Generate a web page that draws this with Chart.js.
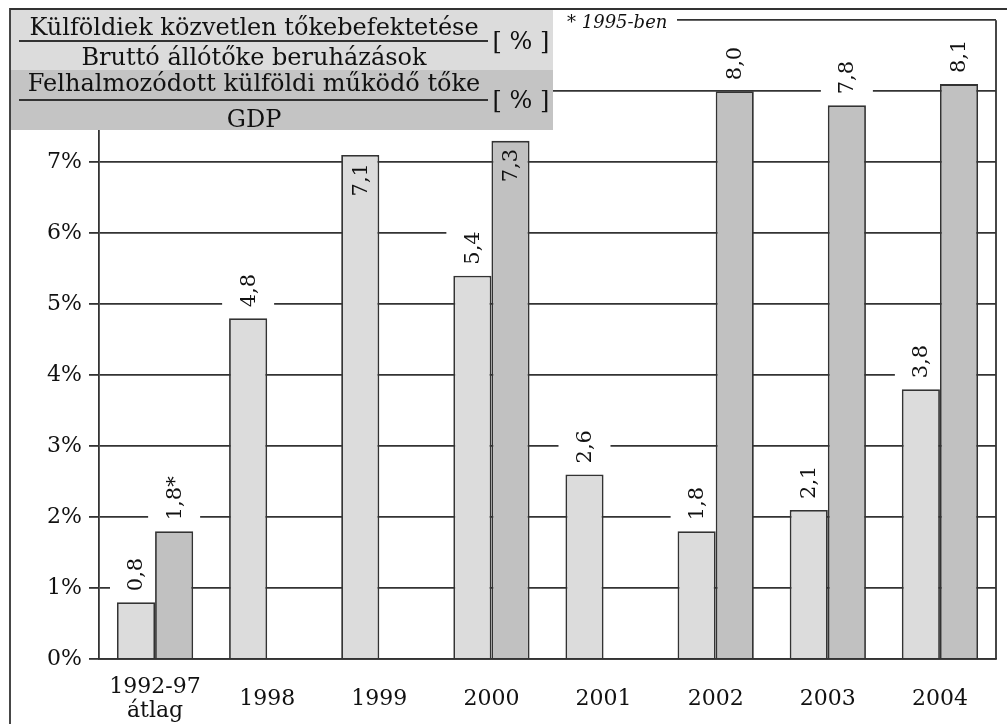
<!DOCTYPE html>
<html>
<head>
<meta charset="utf-8">
<script src="https://cdn.jsdelivr.net/npm/chart.js@4.4.0/dist/chart.umd.min.js"></script>
<style>
    html, body { margin: 0; padding: 0; background: #fff; }
    #wrap { width: 1007px; height: 724px; position: relative; }
</style>
</head>
<body>
<div id="wrap"><canvas id="fdiChart"></canvas></div>
<script>
// Data
const categories = [['1992-97', 'átlag'], '1998', '1999', '2000', '2001', '2002', '2003', '2004'];
const investmentShare = [0.8, 4.8, 7.1, 5.4, 2.6, 1.8, 2.1, 3.8];
const stockToGdp = [1.8, null, null, 7.3, null, 8.0, 7.8, 8.1];
const stockNotes = ['*', '', '', '', '', '', '', ''];
const yTickValues = [0, 1, 2, 3, 4, 5, 6, 7, 8];
const legendRows = [
    { top: 'Külföldiek közvetlen tőkebefektetése', bottom: 'Bruttó állótőke beruházások', unit: '[ % ]' },
    { top: 'Felhalmozódott külföldi működő tőke', bottom: 'GDP', unit: '[ % ]' }
];
const footnote = '* 1995-ben';

const FONT = "'DejaVu Serif', 'Liberation Serif', serif";
const INK = '#111';
const LINE = '#333';
const LW = 1.8;
const LIGHT = '#dcdcdc';
const DARK = '#c1c1c1';
const LEGEND_BOX = { left: 10, top: 9, right: 553, mid: 70, bottom: 130 };
const LABEL_FONT = '21px ' + FONT;

// where each value label goes; labels that would hit the legend go inside the bar
function labelItems(chart) {
    const ctx = chart.ctx;
    const items = [];
    ctx.save();
    ctx.font = LABEL_FONT;
    chart.data.datasets.forEach((ds, di) => {
        chart.getDatasetMeta(di).data.forEach((bar, i) => {
            const v = ds.data[i];
            if (v === null || v === undefined) return;
            const text = v.toFixed(1).replace('.', ',') + (ds.notes ? ds.notes[i] : '');
            const w = ctx.measureText(text).width;
            const inside = bar.x - 26 < LEGEND_BOX.right && bar.y - 16 - w < LEGEND_BOX.bottom;
            items.push({ x: bar.x, y: bar.y, w, text, inside });
        });
    });
    ctx.restore();
    return items;
}

const valueLabels = {
    id: 'valueLabels',
    beforeDatasetsDraw(chart) {
        // white gaps in the grid behind the labels, under the bars
        const ctx = chart.ctx;
        ctx.save();
        ctx.fillStyle = '#fff';
        labelItems(chart).forEach(it => {
            if (!it.inside) ctx.fillRect(it.x - 26, it.y - 16 - it.w, 52, it.w + 13);
        });
        ctx.restore();
    },
    afterDatasetsDraw(chart) {
        const ctx = chart.ctx;
        ctx.save();
        ctx.font = LABEL_FONT;
        ctx.fillStyle = INK;
        labelItems(chart).forEach(it => {
            ctx.save();
            ctx.translate(it.x + 1, it.inside ? it.y + 8 : it.y - 11);
            ctx.rotate(-Math.PI / 2);
            ctx.textAlign = it.inside ? 'right' : 'left';
            ctx.textBaseline = 'middle';
            ctx.fillText(it.text, 0, 0);
            ctx.restore();
        });
        ctx.restore();
    }
};

const frameAndLegend = {
    id: 'frameAndLegend',
    afterDraw(chart) {
        const ctx = chart.ctx;
        const area = chart.chartArea;
        const b = LEGEND_BOX;
        ctx.save();

        // right edge of the plot
        ctx.strokeStyle = LINE;
        ctx.lineWidth = LW;
        ctx.beginPath();
        ctx.moveTo(area.right, area.top);
        ctx.lineTo(area.right, area.bottom);
        ctx.stroke();

        // legend boxes
        ctx.fillStyle = LIGHT;
        ctx.fillRect(b.left, b.top, b.right - b.left, b.mid - b.top);
        ctx.fillStyle = '#c4c4c4';
        ctx.fillRect(b.left, b.mid, b.right - b.left, b.bottom - b.mid);

        ctx.fillStyle = INK;
        ctx.textAlign = 'center';
        ctx.font = '24px ' + FONT;
        const rows = [
            { numY: 35, lineY: 41, denY: 65, unitY: 43 },
            { numY: 91, lineY: 100, denY: 127, unitY: 102 }
        ];
        legendRows.forEach((r, i) => {
            const p = rows[i];
            ctx.textBaseline = 'alphabetic';
            ctx.fillText(r.top, 254, p.numY);
            ctx.fillText(r.bottom, 254, p.denY);
            ctx.beginPath();
            ctx.moveTo(19, p.lineY);
            ctx.lineTo(488, p.lineY);
            ctx.stroke();
            ctx.textBaseline = 'middle';
            ctx.fillText(r.unit, 521, p.unitY);
        });

        // footnote on the top edge
        ctx.fillStyle = '#fff';
        ctx.fillRect(b.right, b.top + 1, 677 - b.right, 22);
        ctx.fillStyle = INK;
        ctx.font = 'italic 18px ' + FONT;
        ctx.textAlign = 'left';
        ctx.textBaseline = 'alphabetic';
        ctx.fillText(footnote, 567, 28);

        // outer frame
        ctx.beginPath();
        ctx.moveTo(10, 724);
        ctx.lineTo(10, 9);
        ctx.lineTo(1007, 9);
        ctx.stroke();
        ctx.restore();
    }
};

new Chart(document.getElementById('fdiChart'), {
    type: 'bar',
    data: {
        labels: categories,
        datasets: [
            {
                label: legendRows[0].top,
                data: investmentShare,
                backgroundColor: LIGHT,
                borderColor: LINE,
                borderWidth: LW
            },
            {
                label: legendRows[1].top,
                data: stockToGdp,
                notes: stockNotes,
                backgroundColor: DARK,
                borderColor: LINE,
                borderWidth: LW
            }
        ]
    },
    options: {
        responsive: true,
        maintainAspectRatio: false,
        animation: false,
        layout: {
            padding: { top: 17, right: 11, left: 0, bottom: 0 }
        },
        plugins: {
            legend: { display: false },
            tooltip: { enabled: false }
        },
        datasets: {
            bar: {
                categoryPercentage: 0.68,
                barPercentage: 1.0
            }
        },
        scales: {
            x: {
                grid: { display: false },
                border: { display: true, color: LINE, width: LW },
                ticks: {
                    color: INK,
                    font: { family: FONT, size: 22, lineHeight: 1.1 },
                    padding: 20,
                    crossAlign: 'center',
                    maxRotation: 0
                },
                afterFit(scale) { scale.height = 65; }
            },
            y: {
                min: 0,
                max: 9,
                grid: {
                    color: LINE,
                    lineWidth: LW,
                    tickLength: 10,
                    drawTicks: true
                },
                border: { display: true, color: LINE, width: LW },
                ticks: {
                    stepSize: 1,
                    color: INK,
                    padding: 7,
                    font: { family: FONT, size: 22 },
                    callback: (v) => yTickValues.includes(v) ? v + '%' : ''
                },
                afterFit(scale) { scale.width = 99; }
            }
        }
    },
    plugins: [valueLabels, frameAndLegend]
});
</script>
</body>
</html>
